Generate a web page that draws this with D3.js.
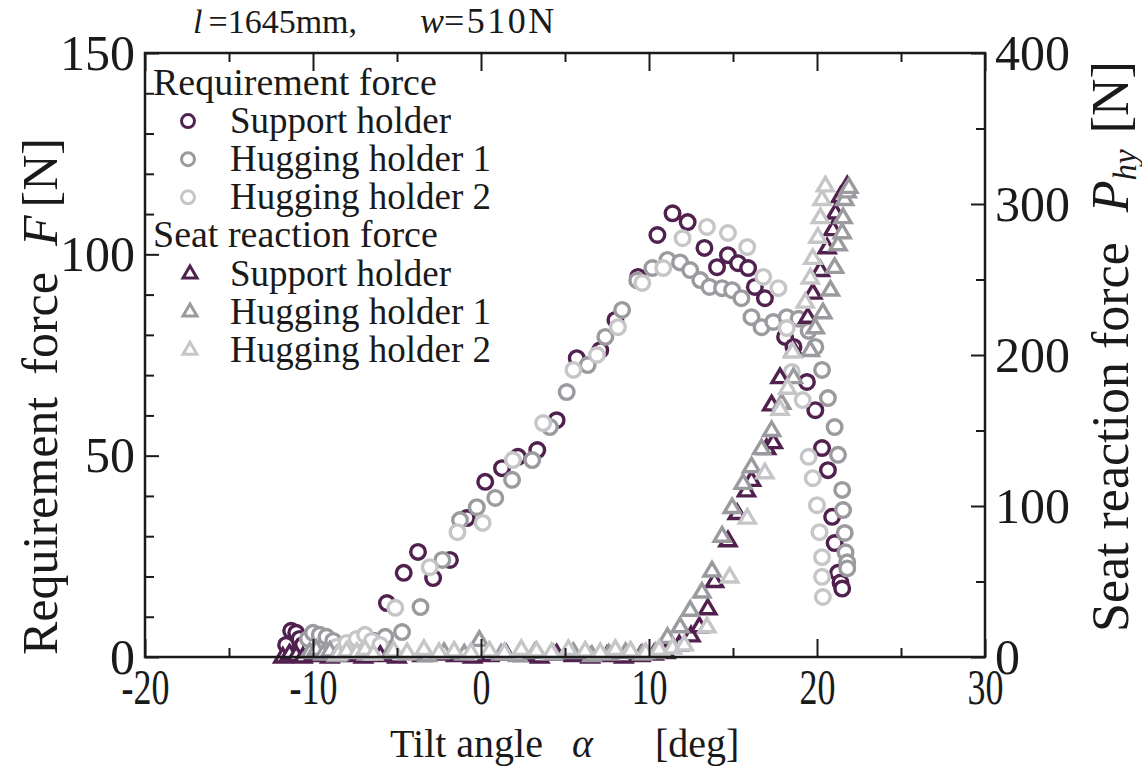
<!DOCTYPE html>
<html lang="en">
<head>
<meta charset="utf-8">
<title>Requirement force and seat reaction force</title>
<script src="https://d3js.org/d3.v7.min.js"></script>
<style>
  body { margin: 0; background: #fff; }
  text { font-family: "Liberation Serif", "Times New Roman", serif; fill: #1a1a1a; }
</style>
</head>
<body>
<script>
var width = 1142, height = 771;
var plot = {left: 145, right: 985, top: 53, bottom: 657};

// tilt angle [deg], requirement force F [N]
var supportF = [[-11.6,3],[-11.3,6.5],[-11.0,6],[-10.8,4.5],[-10.6,3],[-7.0,3],[-6.4,4],[-5.6,13.4],[-4.6,20.9],[-3.75,26.1],[-2.85,19.6],[-1.85,24.1],[-0.85,34.5],[0.25,43.5],[1.25,46.9],[2.2,49.7],[3.35,51.4],[4.5,58.8],[5.7,74.2],[7.1,76.2],[8.0,83.7],[9.35,94.4],[10.5,104.8],[11.4,110.2],[12.3,108],[13.3,101.6],[14.05,96.8],[14.7,99.8],[15.3,97.8],[15.9,96.6],[16.3,91.9],[16.9,89.1],[18.1,79.5],[18.6,77],[19.4,68.3],[19.9,61.3],[20.3,51.9],[20.65,46.4],[20.9,34.8],[21.05,28.3],[21.25,20.9],[21.4,18.5],[21.5,17]];
var hug1F = [[-10.3,4.5],[-10.0,6],[-9.6,5.5],[-9.2,5],[-8.8,4],[-6.2,3.5],[-5.7,5],[-4.7,6.2],[-3.6,12.4],[-2.3,24.1],[-1.25,34],[-0.25,37.2],[0.85,39.5],[1.85,44],[3.05,48.9],[4.1,57.1],[5.1,65.8],[6.35,72.5],[7.4,79.5],[8.4,86.2],[9.3,93.5],[10.2,96.6],[11.1,98.6],[11.85,98],[12.45,96.1],[13.05,93.6],[13.6,91.9],[14.35,91.6],[14.95,91.1],[15.5,89.1],[16.1,84.4],[16.7,81.9],[17.4,83.2],[18.2,84.4],[18.9,84],[19.5,81],[19.9,77],[20.3,71.3],[20.65,64.3],[21.05,57.1],[21.25,50.2],[21.5,41.5],[21.55,36.5],[21.65,30.8],[21.7,26],[21.8,23.5],[21.8,22]];
var hug2F = [[-8.6,2.5],[-8.0,3.5],[-7.4,4.5],[-6.9,5.5],[-6.5,4],[-6.0,3],[-5.1,12.2],[-3.05,22.3],[-1.4,31],[0.1,33.3],[1.9,48.9],[3.7,58.1],[5.5,71.3],[6.9,75],[8.15,81.9],[9.6,92.9],[10.85,96.6],[12.0,104],[13.45,106.8],[14.7,105.3],[15.85,101.8],[16.8,94.4],[17.7,91.6],[18.2,81.7],[18.5,70.8],[19.15,63.8],[19.5,49.7],[19.75,44.4],[20.0,37.7],[20.15,31],[20.3,24.8],[20.3,19.9],[20.35,14.9]];

// tilt angle [deg], seat reaction force P_hy [N]
var supportP = [[-11.8,0],[-11.4,2],[-11.0,1],[-10.6,0],[-10.0,1],[-9.0,0],[-8.0,1],[-7.0,0],[-6.0,1],[-5.0,0],[-3.5,1],[-2.5,2],[-1.5,1],[-0.5,0],[0.5,1],[1.5,2],[2.5,1],[3.5,0],[4.5,2],[5.5,1],[6.5,0],[7.5,1],[8.5,0],[9.5,1],[10.3,2],[11.0,3],[11.8,8],[12.5,14],[13.0,20],[13.5,32],[13.9,50],[14.7,77],[15.25,95],[15.8,110],[16.1,117],[17.0,138],[17.4,142],[17.3,167],[17.8,185],[18.6,203],[19.45,225],[19.75,241],[20.2,256],[20.6,271],[20.95,283],[21.1,294],[21.4,305],[21.8,312]];
var hug1P = [[-10.2,3],[-9.8,5],[-9.4,2],[-9.0,4],[-8.6,1],[-6.8,2],[-5.4,3],[-4.4,2],[-3.2,1],[-2.2,3],[-1.0,2],[-0.1,11],[1.2,2],[2.2,1],[3.2,3],[4.3,2],[5.5,3],[6.6,1],[7.6,2],[8.6,3],[9.6,2],[10.4,3],[11.1,13],[11.85,20],[12.45,31],[13.15,43],[13.75,57],[14.35,80],[14.95,99],[15.6,115],[16.1,126],[16.7,138],[17.3,150],[17.9,168],[18.6,185],[19.6,203],[19.9,218],[20.35,228],[20.8,243],[21.05,258],[21.25,273],[21.5,281],[21.55,291],[21.65,303],[21.8,308],[21.9,311]];
var hug2P = [[-8.5,2],[-8.0,4],[-7.4,3],[-6.9,5],[-6.4,2],[-5.2,4],[-4.4,3],[-3.4,5],[-2.5,3],[-1.6,4],[-0.6,3],[0.5,4],[1.4,3],[2.4,5],[3.3,4],[4.2,3],[5.2,5],[6.2,4],[7.1,3],[8.0,5],[8.9,4],[9.8,3],[10.6,5],[11.4,6],[12.1,8],[13.45,20],[14.8,53],[15.85,92],[16.9,122],[17.8,164],[18.25,178],[18.55,202],[19.3,235],[19.6,251],[19.75,264],[20.05,278],[20.2,291],[20.3,303],[20.5,312]];

var holderNames = ["Support holder", "Hugging holder 1", "Hugging holder 2"];
var colors = ["#50204f", "#9b9b9f", "#c6c6c8"];
var groupTitles = ["Requirement force", "Seat reaction force"];
var xTicks = d3.range(-20, 31, 5);
var yLeftTicks = d3.range(0, 151, 10);
var yRightTicks = d3.range(0, 401, 50);

var svg = d3.select("body").append("svg")
    .attr("width", width)
    .attr("height", height);

var x = d3.scaleLinear().domain([-20, 30]).range([plot.left, plot.right]);
var yL = d3.scaleLinear().domain([0, 150]).range([plot.bottom, plot.top]);
var yR = d3.scaleLinear().domain([0, 400]).range([plot.bottom, plot.top]);

var triPath = "M0,-8.5L8,5L-8,5Z";
var triSmall = "M0,-7.5L7,4.5L-7,4.5Z";

// circles (requirement force)
[supportF, hug1F, hug2F].forEach(function(series, i) {
  svg.append("g").selectAll("circle")
    .data(series)
    .enter().append("circle")
      .attr("cx", function(d) { return x(d[0]); })
      .attr("cy", function(d) { return yL(d[1]); })
      .attr("r", 7.3)
      .attr("fill", "#fff")
      .attr("stroke", colors[i])
      .attr("stroke-width", 3.4);
});

// triangles (seat reaction force)
[supportP, hug1P, hug2P].forEach(function(series, i) {
  svg.append("g").selectAll("path")
    .data(series)
    .enter().append("path")
      .attr("d", triPath)
      .attr("transform", function(d) { return "translate(" + x(d[0]) + "," + yR(d[1]) + ")"; })
      .attr("fill", "#fff")
      .attr("stroke", colors[i])
      .attr("stroke-width", 3.4)
      .attr("stroke-linejoin", "miter");
});

// frame
svg.append("rect")
    .attr("x", plot.left).attr("y", plot.top)
    .attr("width", plot.right - plot.left).attr("height", plot.bottom - plot.top)
    .attr("fill", "none").attr("stroke", "#1a1a1a").attr("stroke-width", 2.5);

function styleAxis(g) {
  g.select(".domain").remove();
  g.selectAll(".tick line").attr("stroke", "#1a1a1a").attr("stroke-width", 2);
  g.selectAll(".tick text").attr("fill", "#1a1a1a").attr("font-size", 50)
    .attr("font-family", "Liberation Serif");
}

var xBottom = svg.append("g")
    .attr("transform", "translate(0," + plot.bottom + ")")
    .call(d3.axisBottom(x).tickValues(xTicks).tickSizeOuter(0).tickSizeInner(-9).tickPadding(12)
      .tickFormat(function(d) { return d % 10 === 0 ? String(d) : ""; }))
    .call(styleAxis);
xBottom.selectAll(".tick line").attr("y2", function(d) { return d % 10 === 0 ? -18 : -9; });
xBottom.selectAll(".tick text").attr("transform", "scale(0.72,1)");

var xTop = svg.append("g")
    .attr("transform", "translate(0," + plot.top + ")")
    .call(d3.axisTop(x).tickValues(xTicks).tickSizeOuter(0).tickSizeInner(-9).tickFormat(""))
    .call(styleAxis);
xTop.selectAll(".tick line").attr("y2", function(d) { return d % 10 === 0 ? 18 : 9; });

var yLeft = svg.append("g")
    .attr("transform", "translate(" + plot.left + ",0)")
    .call(d3.axisLeft(yL).tickValues(yLeftTicks).tickSizeOuter(0).tickSizeInner(-9).tickPadding(10)
      .tickFormat(function(d) { return d % 50 === 0 ? String(d) : ""; }))
    .call(styleAxis);
yLeft.selectAll(".tick line").attr("x2", function(d) { return d % 50 === 0 ? 14 : 9; });

var yRight = svg.append("g")
    .attr("transform", "translate(" + plot.right + ",0)")
    .call(d3.axisRight(yR).tickValues(yRightTicks).tickSizeOuter(0).tickSizeInner(-9).tickPadding(10)
      .tickFormat(function(d) { return d % 100 === 0 ? String(d) : ""; }))
    .call(styleAxis);
yRight.selectAll(".tick line").attr("x2", function(d) { return d % 100 === 0 ? -14 : -9; });

// legend
var legend = svg.append("g").attr("font-size", 37);
var rowH = 38.1, row0 = 95;
groupTitles.forEach(function(title, gi) {
  var base = row0 + gi * 4 * rowH;
  legend.append("text").attr("x", 153).attr("y", base).attr("font-size", 38).text(title);
  holderNames.forEach(function(name, i) {
    var by = base + (i + 1) * rowH;
    if (gi === 0) {
      legend.append("circle").attr("cx", 188).attr("cy", by - 12).attr("r", 6.5)
        .attr("fill", "#fff").attr("stroke", colors[i]).attr("stroke-width", 3);
    } else {
      legend.append("path").attr("d", triSmall)
        .attr("transform", "translate(190," + (by - 12) + ")")
        .attr("fill", "#fff").attr("stroke", colors[i]).attr("stroke-width", 3);
    }
    legend.append("text").attr("x", 230).attr("y", by).text(name);
  });
});

// top annotation
var note = svg.append("text").attr("y", 33).attr("font-size", 34);
note.append("tspan").attr("x", 193).attr("font-style", "italic").text("l");
note.append("tspan").attr("dx", 6).text("=1645mm,");
note.append("tspan").attr("x", 420).attr("font-style", "italic").attr("font-size", 36).text("w");
note.append("tspan").attr("font-size", 36).attr("letter-spacing", 2.5).text("=510N");

// axis titles
var leftTitle = svg.append("text")
    .attr("transform", "translate(57,655) rotate(-90)")
    .attr("font-size", 50);
leftTitle.append("tspan").text("Requirement");
leftTitle.append("tspan").attr("dx", 22).text("force");
leftTitle.append("tspan").attr("dx", 26).attr("font-style", "italic").text("F");
leftTitle.append("tspan").attr("dx", 8).text("[N]");

var rightTitle = svg.append("text")
    .attr("transform", "translate(1128,632) rotate(-90)")
    .attr("font-size", 52);
rightTitle.append("tspan").text("Seat reaction force");
rightTitle.append("tspan").attr("dx", 30).attr("font-style", "italic").text("P");
rightTitle.append("tspan").attr("font-style", "italic").attr("font-size", 33).attr("dy", 8).text("hy");
rightTitle.append("tspan").attr("dx", 16).attr("dy", -8).text("[N]");

var bottomTitle = svg.append("text").attr("y", 757).attr("font-size", 40);
bottomTitle.append("tspan").attr("x", 390).text("Tilt angle");
bottomTitle.append("tspan").attr("x", 572).attr("font-style", "italic").text("α");
bottomTitle.append("tspan").attr("x", 655).text("[deg]");
</script>
</body>
</html>
